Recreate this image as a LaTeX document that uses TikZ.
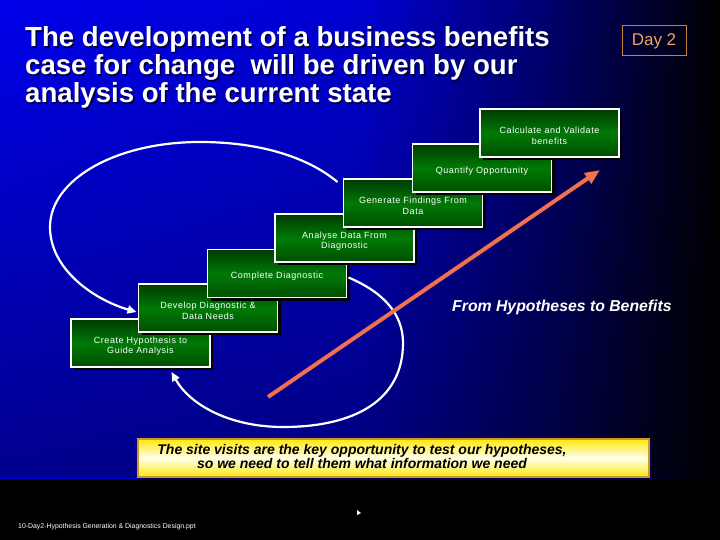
\documentclass[tikz,border=0pt]{standalone}
\usepackage{fontspec}
\setmainfont{Liberation Sans}
\newfontfamily\boxfont[LetterSpace=6]{Liberation Sans}
\usetikzlibrary{arrows.meta,fadings,calc}
\definecolor{bgA}{RGB}{0,0,235}
\definecolor{bgB}{RGB}{0,0,210}
\definecolor{bgC}{RGB}{0,0,115}
\definecolor{gTop}{RGB}{0,58,0}
\definecolor{gMid}{RGB}{0,122,6}
\definecolor{gBot}{RGB}{0,78,0}
\definecolor{arrowOrange}{RGB}{240,112,80}
\definecolor{dayBorder}{RGB}{200,128,60}
\definecolor{dayText}{RGB}{235,165,100}
\definecolor{banYellow}{RGB}{255,232,10}
\definecolor{banPale}{RGB}{255,255,235}
\definecolor{banBorder}{RGB}{210,150,40}
\begin{document}
\begin{tikzpicture}[x=1pt,y=-1pt,
  stepbox/.style={draw=white, line width=1.8pt, minimum width=139pt, minimum height=48pt,
    inner sep=0pt, outer sep=0pt, top color=gTop, bottom color=gBot, middle color=gMid},
  shadowbox/.style={fill=black, minimum width=139pt, minimum height=48pt, inner sep=0pt, outer sep=0pt},
  boxtext/.style={text=white, align=center, font=\boxfont\fontsize{9}{10.5}\selectfont, inner sep=0pt},
  titletext/.style={anchor=base west, inner sep=0pt, font=\bfseries\fontsize{27.6}{28}\selectfont},
  loop/.style={draw=white, line width=2.2pt, -{Triangle[length=9pt,width=8pt]}},
  bantext/.style={anchor=base, inner sep=0pt, font=\bfseries\itshape\fontsize{14}{14}\selectfont, text=black}
]
\useasboundingbox (0,0) rectangle (720,540);
% background
\fill[black] (0,0) rectangle (720,540);
\shade[left color=bgA, right color=bgB] (0,0) rectangle (360.5,478);
\shade[left color=bgB, right color=black, middle color=bgC] (360,0) rectangle (720,478);
\fill[black, fill opacity=0.4, path fading=north] (0,0) rectangle (720,478);

% title
\foreach \t/\yy in {{The development of a business benefits}/47,{case for change\ \ will be driven by our}/75,{analysis of the current state}/103}{
  \node[titletext, text=black!75!blue] at (26.5,\yy+1.5) {\t};
  \node[titletext, text=white] at (25,\yy) {\t};
}
\node[draw=dayBorder, line width=1pt, minimum width=64pt, minimum height=30pt, inner sep=0pt,
  text=dayText, font=\fontsize{17}{17}\selectfont] (day) at (654,41) {Day 2};

% steps (lowest first so higher ones overlap)
\node[shadowbox] at (143.5,346) {};
\node[stepbox] (b7) at (140.5,343) {};
\node[boxtext] (t7) at ($(b7.center)+(0,3)$) {Create Hypothesis to\\Guide Analysis};

\node[shadowbox] at (211,311) {};
\node[stepbox] (b6) at (208,308) {};
\node[boxtext] (t6) at ($(b6.center)+(0,3)$) {Develop Diagnostic \&\\Data Needs};

\node[shadowbox] at (280,276.5) {};
\node[stepbox] (b5) at (277,273.5) {};
\node[boxtext] (t5) at ($(b5.center)+(0,3)$) {Complete Diagnostic};

\node[shadowbox] at (347.5,241) {};
\node[stepbox] (b4) at (344.5,238) {};
\node[boxtext] (t4) at ($(b4.center)+(0,3)$) {Analyse Data From\\Diagnostic};

\node[shadowbox] at (416,206) {};
\node[stepbox] (b3) at (413,203) {};
\node[boxtext] (t3) at ($(b3.center)+(0,3)$) {Generate Findings From\\Data};

\node[shadowbox] at (485,171) {};
\node[stepbox] (b2) at (482,168) {};
\node[boxtext] (t2) at ($(b2.center)+(0,3)$) {Quantify Opportunity};

\node[shadowbox] at (552.5,136) {};
\node[stepbox] (b1) at (549.5,133) {};
\node[boxtext] (t1) at ($(b1.center)+(0,3)$) {Calculate and Validate\\benefits};

% loops
\coordinate (s1) at ($(b3.north west)+(-6,3)$);
\coordinate (e1) at ($(b6.west)+(-2,4)$);
\draw[loop] (s1) .. controls (305,155) and (255,142) .. (200,142)
  .. controls (115,142) and (50,180) .. (50,227)
  .. controls (50,270) and (95,300) .. (e1);

\coordinate (s2) at ($(b5.east)+(2,4)$);
\coordinate (e2) at ($(b7.south)+(31,5)$);
\draw[loop] (s2) .. controls (385,293) and (403,315) .. (403,343)
  .. controls (403,400) and (355,427) .. (283,427)
  .. controls (230,427) and (190,405) .. (e2);

% orange arrow
\coordinate (o1) at (268,397);
\coordinate (o2) at (600,170);
\draw[draw=arrowOrange, line width=4pt, -{Triangle[length=15pt,width=12pt]}] (o1) -- (o2);

\node[anchor=base west, inner sep=0pt, text=white, font=\bfseries\itshape\fontsize{15.8}{16}\selectfont] (fh) at (452,311) {From Hypotheses to Benefits};

% banner
\fill[black!70!blue] (140.5,441.5) rectangle (651.5,479.5);
\node[draw=banBorder, line width=2pt, minimum width=511pt, minimum height=38pt, inner sep=0pt,
  top color=banYellow, bottom color=banYellow, middle color=banPale] (ban) at (393.5,458) {};
\node[bantext] (bt1) at (362,454) {The site visits are the key opportunity to test our hypotheses,};
\node[bantext] (bt2) at (362,468) {so we need to tell them what information we need};

% footer
\node[anchor=base west, inner sep=0pt, text=white, font=\fontsize{6.9}{7}\selectfont] (foot) at (18,528) {10-Day2-Hypothesis Generation \& Diagnostics Design.ppt};
\fill[white] (357,510) -- (361,513) -- (357,515) -- cycle;
\end{tikzpicture}
\end{document}
